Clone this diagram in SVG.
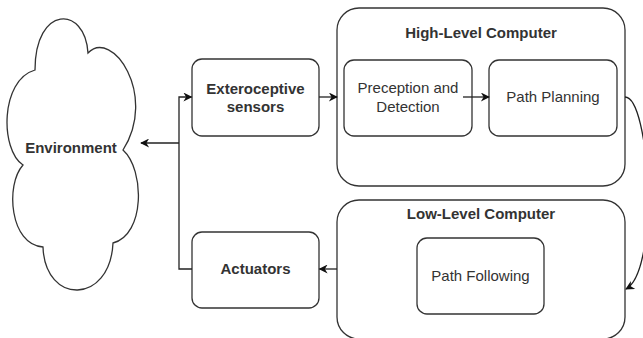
<svg xmlns="http://www.w3.org/2000/svg" width="643" height="338" viewBox="0 0 643 338">
<defs>
<style>
.box{fill:#fff;stroke:#333;stroke-width:1.3}
.edge{fill:none;stroke:#222;stroke-width:1.3}
.b{font-family:"Liberation Sans",Arial,sans-serif;font-size:15px;font-weight:bold;fill:#333;text-anchor:middle}
.n{font-family:"Liberation Sans",Arial,sans-serif;font-size:15px;fill:#333;text-anchor:middle}
</style>
<marker id="arr" viewBox="0 0 10 10" refX="9" refY="5" markerWidth="10" markerHeight="9" markerUnits="userSpaceOnUse" orient="auto">
<path d="M0,0 L10,5 L0,10 L3,5 Z" fill="#111"/>
</marker>
</defs>
<rect width="643" height="338" fill="#fff"/>
<g id="environment">
<path class="box" d="M35,70 C35,5 85,5 88,53 C112,28 158,95 123,150 C145,170 145,235 113,243 C110,305 45,305 43,247 C10,245 5,185 23,165 C0,150 0,80 35,70 Z"/>
<text class="b" x="71" y="153">Environment</text>
</g>
<g id="exteroceptive">
<rect class="box" x="192" y="59" width="127" height="77" rx="10"/>
<text class="b" x="255.5" y="94">Exteroceptive</text>
<text class="b" x="255.5" y="112">sensors</text>
</g>
<g id="high-level">
<rect class="box" x="337" y="8" width="288" height="178" rx="22"/>
<text class="b" x="481" y="38">High-Level Computer</text>
</g>
<g id="perception">
<rect class="box" x="344" y="60" width="128" height="76" rx="10"/>
<text class="n" x="408" y="93">Preception and</text>
<text class="n" x="408" y="112">Detection</text>
</g>
<g id="path-planning">
<rect class="box" x="489" y="60" width="128" height="76" rx="10"/>
<text class="n" x="553" y="102">Path Planning</text>
</g>
<g id="low-level">
<rect class="box" x="337" y="200" width="288" height="139" rx="22"/>
<text class="b" x="481" y="219">Low-Level Computer</text>
</g>
<g id="path-following">
<rect class="box" x="417" y="238" width="127" height="76" rx="10"/>
<text class="n" x="480.5" y="281">Path Following</text>
</g>
<g id="actuators">
<rect class="box" x="192" y="232" width="127" height="76" rx="10"/>
<text class="b" x="255.5" y="274">Actuators</text>
</g>
<g id="connectors">
<path class="edge" d="M192,269 H179 V97 H191.5" marker-end="url(#arr)"/>
<path class="edge" d="M179,143 H141" marker-end="url(#arr)"/>
<path class="edge" d="M319,97 H337" marker-end="url(#arr)"/>
<path class="edge" d="M463,97 H489" marker-end="url(#arr)"/>
<path class="edge" d="M625,97 C650,97 660,270 626,289" marker-end="url(#arr)"/>
<path class="edge" d="M337,269 H319.5" marker-end="url(#arr)"/>
</g>
</svg>
